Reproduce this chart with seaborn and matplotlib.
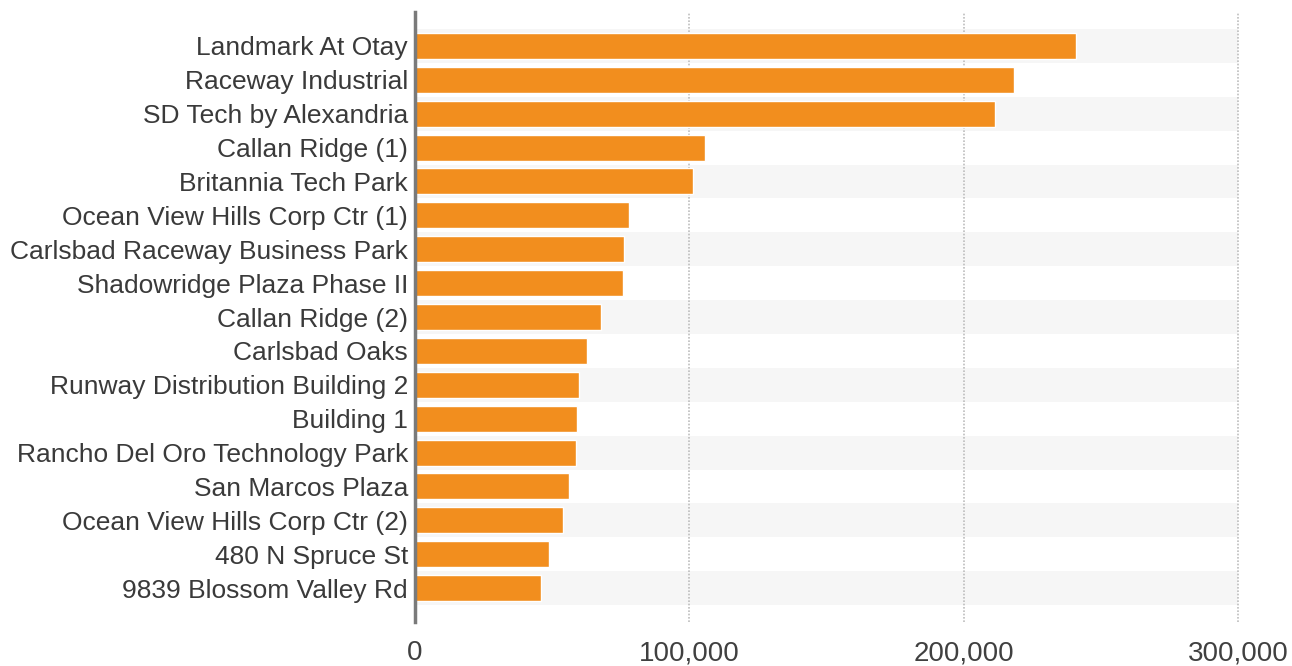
import matplotlib
matplotlib.use("Agg")
import matplotlib.pyplot as plt
import seaborn as sns
import pandas as pd
from matplotlib.ticker import FuncFormatter

projects = [
    "Landmark At Otay", "Raceway Industrial", "SD Tech by Alexandria",
    "Callan Ridge (1)", "Britannia Tech Park", "Ocean View Hills Corp Ctr (1)",
    "Carlsbad Raceway Business Park", "Shadowridge Plaza Phase II",
    "Callan Ridge (2)", "Carlsbad Oaks", "Runway Distribution Building 2",
    "Building 1", "Rancho Del Oro Technology Park", "San Marcos Plaza",
    "Ocean View Hills Corp Ctr (2)", "480 N Spruce St", "9839 Blossom Valley Rd",
]
square_feet = [
    241000, 218200, 211300, 105600, 101300, 78000, 76100, 75800,
    67800, 62700, 59700, 59000, 58700, 56100, 53900, 48800, 45900,
]
x_ticks = [0, 100000, 200000, 300000]

df = pd.DataFrame({"project": projects, "sf": square_feet})

sns.set_theme(style="white")
plt.rcParams["font.family"] = ["Liberation Sans", "DejaVu Sans"]

fig = plt.figure(figsize=(12.92, 6.66), dpi=100)
ax = fig.add_axes([415 / 1292, 1 - 622 / 666, (1238 - 415) / 1292, (622 - 12) / 666])

# alternating row bands
for i in range(len(projects)):
    if i % 2 == 0:
        ax.axhspan(i - 0.5, i + 0.5, xmin=0, xmax=1, color="#f6f6f6", zorder=0, lw=0)

sns.barplot(data=df, x="sf", y="project", orient="h", color="#f28e1e",
            saturation=1, width=0.77, ax=ax, zorder=3)

ax.set_xlim(0, 300000)
ax.set_ylim(len(projects), -1)
ax.set_xticks(x_ticks)
ax.xaxis.set_major_formatter(FuncFormatter(lambda v, p: f"{int(v):,}"))
ax.set_xlabel("")
ax.set_ylabel("")

for v in x_ticks[1:]:
    ax.axvline(v, color="#bdbdbd", lw=1.2, ls=(0, (1, 1)), zorder=1, clip_on=False)

for s in ["top", "right", "bottom"]:
    ax.spines[s].set_visible(False)
ax.spines["left"].set_color("#7a7a7a")
ax.spines["left"].set_linewidth(2.5)
ax.spines["left"].set_zorder(5)

ax.tick_params(axis="x", length=0, pad=13, labelsize=20, labelcolor="#404040")
ax.tick_params(axis="y", length=0, pad=5, labelsize=19, labelcolor="#3a3a3a")
ax.grid(False)

fig.savefig("out.png", dpi=100)
